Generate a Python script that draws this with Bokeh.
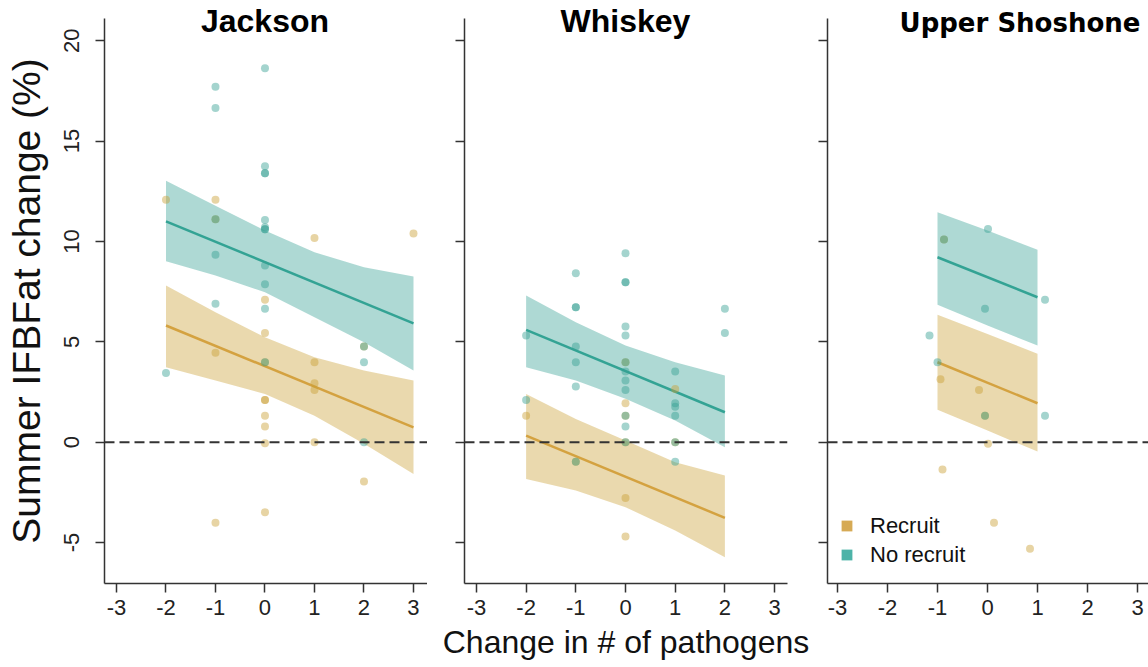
from bokeh.plotting import figure
from bokeh.layouts import row
from bokeh.models import Range1d, Span, Label, Legend, LegendItem, FixedTicker
from bokeh.embed import file_html
from bokeh.resources import INLINE

# ---------------- data ----------------
panel_titles = ["Jackson", "Whiskey", "Upper Shoshone"]
x_ticks = [-3, -2, -1, 0, 1, 2, 3]
y_ticks = [-5, 0, 5, 10, 15, 20]
legend_labels = ["Recruit", "No recruit"]
x_axis_title = "Change in # of pathogens"
y_axis_title = "Summer IFBFat change (%)"

# Jackson
jackson_nr_x = [-2, -1, -1, -1, -1, -1, 0, 0, 0, 0, 0, 0, 0, 0, 0, 0, 0, 0, 2, 2, 2]
jackson_nr_y = [3.45, 17.7, 16.65, 11.1, 9.33, 6.89, 18.62, 13.74, 13.39, 13.39, 11.07,
                10.7, 10.6, 10.6, 8.8, 7.86, 6.65, 3.98, 4.76, 3.98, 0.0]
jackson_r_x = [-2, -1, -1, -1, -1, 0, 0, 0, 0, 0, 0, 0, 0, 0, 1, 1, 1, 1, 1, 2, 2, 3]
jackson_r_y = [12.07, 12.07, 11.1, 4.45, -4.02, 7.1, 5.44, 3.98, 2.1, 2.1, 1.31, 0.78,
               -0.05, -3.49, 10.17, 3.98, 2.93, 2.6, 0.0, 4.76, -1.96, 10.4]
jackson_fit_x = [-2, 3]
jackson_nr_fit = [11.0, 5.92]
jackson_r_fit = [5.81, 0.74]
jackson_band_x = [-2, -1, 0, 1, 2, 3]
jackson_nr_hi = [13.02, 11.78, 10.54, 9.46, 8.71, 8.25]
jackson_nr_lo = [9.01, 8.3, 7.47, 6.22, 4.98, 3.57]
jackson_r_hi = [7.8, 6.47, 5.23, 4.23, 3.57, 3.07]
jackson_r_lo = [3.73, 3.07, 2.4, 1.32, -0.08, -1.58]

# Whiskey
whiskey_nr_x = [-2, -2, -1, -1, -1, -1, -1, -1, -1, 0, 0, 0, 0, 0, 0, 0, 0, 0, 0, 0, 0,
                1, 1, 1, 1, 1, 1, 2, 2]
whiskey_nr_y = [5.31, 2.1, 8.41, 6.72, 6.72, 4.76, 3.98, 2.77, -0.97, 9.41, 7.96, 7.96,
                5.76, 5.31, 3.98, 3.52, 3.07, 2.6, 1.32, 0.78, 0.0,
                3.52, 1.94, 1.77, 1.32, 0.0, -0.97, 6.65, 5.44]
whiskey_r_x = [-2, -1, 0, 0, 0, 0, 0, 0, 1, 1]
whiskey_r_y = [1.32, -0.97, 3.98, 1.94, 1.32, 0.0, -2.78, -4.7, 2.65, 0.0]
whiskey_fit_x = [-2, 2]
whiskey_nr_fit = [5.59, 1.49]
whiskey_r_fit = [0.33, -3.77]
whiskey_band_x = [-2, -1, 0, 1, 2]
whiskey_nr_hi = [7.3, 5.97, 4.81, 3.98, 3.32]
whiskey_nr_lo = [3.73, 3.07, 2.16, 1.08, -0.25]
whiskey_r_hi = [2.4, 1.16, 0.08, -1.0, -1.66]
whiskey_r_lo = [-1.83, -2.41, -3.24, -4.4, -5.73]

# Upper Shoshone
shoshone_nr_x = [0.01, -0.87, 1.15, -0.05, -1.16, -1.0, -0.05, 1.15]
shoshone_nr_y = [10.62, 10.09, 7.1, 6.64, 5.31, 3.98, 1.32, 1.32]
shoshone_r_x = [-0.87, -0.94, -0.17, -0.05, 0.01, -0.9, 0.13, 0.85]
shoshone_r_y = [10.09, 3.13, 2.6, 1.32, -0.08, -1.36, -4.02, -5.31]
shoshone_fit_x = [-1, 1]
shoshone_nr_fit = [9.21, 7.22]
shoshone_r_fit = [3.98, 1.94]
shoshone_band_x = [-1, 0, 1]
shoshone_nr_hi = [11.45, 10.54, 9.58]
shoshone_nr_lo = [6.85, 5.81, 4.81]
shoshone_r_hi = [6.35, 5.39, 4.4]
shoshone_r_lo = [1.61, 0.58, -0.47]

# ---------------- style ----------------
TEAL = "#35A093"
TAN = "#CAA035"
TEAL_LINE = "#33A394"
TAN_LINE = "#D4A240"
TEAL_KEY = "#4DB3A8"
TAN_KEY = "#D6AA55"
AXIS_COL = "#333333"
FONT = "Liberation Sans"

Y0, Y_AXIS_TOP, Y1 = -7.04, 21.1, 22.0
FRAME_H = 583
TOP, BOTTOM = 0, 84

# narrow strip holding the rotated y-axis title, centred on the drawn axis span
ylab_fig = figure(frame_width=50, frame_height=FRAME_H, x_range=Range1d(0, 1), y_range=Range1d(0, 1),
                  output_backend="svg", toolbar_location=None,
                  x_axis_location=None, y_axis_location=None,
                  min_border_left=0, min_border_right=0, min_border_top=TOP, min_border_bottom=BOTTOM)
ylab_fig.outline_line_color = None
ylab_fig.xgrid.grid_line_color = None
ylab_fig.ygrid.grid_line_color = None
ylab_fig.add_layout(Label(x=0.52, y=0.4846, text=y_axis_title, angle=90, angle_units="deg",
                          text_align="center", text_baseline="middle", text_font=FONT,
                          text_font_size="39px", text_color="#111111"))

panels = [
    dict(title=panel_titles[0], nr_x=jackson_nr_x, nr_y=jackson_nr_y, r_x=jackson_r_x, r_y=jackson_r_y,
         fit_x=jackson_fit_x, nr_fit=jackson_nr_fit, r_fit=jackson_r_fit, band_x=jackson_band_x,
         nr_hi=jackson_nr_hi, nr_lo=jackson_nr_lo, r_hi=jackson_r_hi, r_lo=jackson_r_lo,
         xr=(-3.242, 3.283), left=54, right=0, fw=323, title_x=0.0, title_y=21.0,
         title_size="32px", title_font=FONT),
    dict(title=panel_titles[1], nr_x=whiskey_nr_x, nr_y=whiskey_nr_y, r_x=whiskey_r_x, r_y=whiskey_r_y,
         fit_x=whiskey_fit_x, nr_fit=whiskey_nr_fit, r_fit=whiskey_r_fit, band_x=whiskey_band_x,
         nr_hi=whiskey_nr_hi, nr_lo=whiskey_nr_lo, r_hi=whiskey_r_hi, r_lo=whiskey_r_lo,
         xr=(-3.24, 3.26), left=37, right=22, fw=323, title_x=0.0, title_y=21.0,
         title_size="32px", title_font=FONT),
    dict(title=panel_titles[2], nr_x=shoshone_nr_x, nr_y=shoshone_nr_y, r_x=shoshone_r_x, r_y=shoshone_r_y,
         fit_x=shoshone_fit_x, nr_fit=shoshone_nr_fit, r_fit=shoshone_r_fit, band_x=shoshone_band_x,
         nr_hi=shoshone_nr_hi, nr_lo=shoshone_nr_lo, r_hi=shoshone_r_hi, r_lo=shoshone_r_lo,
         xr=(-3.2, 3.22), left=18, right=0, fw=321, title_x=0.65, title_y=20.88,
         title_size="26px", title_font="DejaVu Sans"),
]

figs = [ylab_fig]
for i, pd_ in enumerate(panels):
    p = figure(frame_width=pd_["fw"], frame_height=FRAME_H,
               x_range=Range1d(*pd_["xr"]), y_range=Range1d(Y0, Y1),
               output_backend="svg", toolbar_location=None,
               min_border_left=pd_["left"], min_border_right=pd_["right"],
               min_border_top=TOP, min_border_bottom=BOTTOM)
    p.outline_line_color = None
    p.xgrid.grid_line_color = None
    p.ygrid.grid_line_color = None
    p.background_fill_color = "white"

    # confidence bands
    p.varea(x=pd_["band_x"], y1=pd_["r_lo"], y2=pd_["r_hi"], fill_color=TAN, fill_alpha=0.4)
    p.varea(x=pd_["band_x"], y1=pd_["nr_lo"], y2=pd_["nr_hi"], fill_color=TEAL, fill_alpha=0.4)
    # fit lines
    p.line(pd_["fit_x"], pd_["r_fit"], line_color=TAN_LINE, line_width=2.5)
    p.line(pd_["fit_x"], pd_["nr_fit"], line_color=TEAL_LINE, line_width=2.5)
    # points
    p.scatter(pd_["r_x"], pd_["r_y"], size=8, fill_color=TAN, fill_alpha=0.45, line_color=None)
    p.scatter(pd_["nr_x"], pd_["nr_y"], size=8, fill_color=TEAL, fill_alpha=0.45, line_color=None)

    p.add_layout(Span(location=0, dimension="width", line_color=AXIS_COL,
                      line_width=2, line_dash="10 5"))

    p.add_layout(Label(x=pd_["title_x"], y=pd_["title_y"], text=pd_["title"], text_align="center",
                       text_baseline="alphabetic", text_font_size=pd_["title_size"],
                       text_font_style="bold", text_font=pd_["title_font"], text_color="black"))

    for ax in (p.xaxis, p.yaxis):
        ax.axis_line_color = AXIS_COL
        ax.axis_line_width = 1.5
        ax.major_tick_line_color = AXIS_COL
        ax.major_tick_line_width = 1.5
        ax.major_tick_out = 9
        ax.major_tick_in = 0
        ax.minor_tick_line_color = None
        ax.major_label_text_font = FONT
        ax.major_label_text_font_size = "22px"
        ax.major_label_text_color = "#222222"
        ax.axis_label_text_font = FONT
        ax.axis_label_text_font_style = "normal"
        ax.axis_label_text_color = "#111111"
    p.yaxis.bounds = (Y0, Y_AXIS_TOP)
    p.xaxis.ticker = FixedTicker(ticks=x_ticks)
    p.yaxis.ticker = FixedTicker(ticks=y_ticks)
    p.xaxis.major_label_overrides = {t: str(t) for t in x_ticks}
    p.xaxis.major_label_standoff = 7
    p.yaxis.major_label_orientation = "vertical"

    if i == 0:
        p.yaxis.major_label_overrides = {t: str(t) for t in y_ticks}
        p.yaxis.major_label_standoff = 16
    else:
        p.yaxis.major_label_overrides = {t: "" for t in y_ticks}
        p.yaxis.major_label_standoff = 0
    if i == 1:
        p.xaxis.axis_label = x_axis_title
        p.xaxis.axis_label_text_font_size = "32px"
        p.xaxis.axis_label_standoff = 6

    if i == 2:
        nan = float("nan")
        key_r = p.scatter(x=[nan], y=[nan], marker="square", size=11, fill_color=TAN_KEY, line_color=None)
        key_nr = p.scatter(x=[nan], y=[nan], marker="square", size=11, fill_color=TEAL_KEY, line_color=None)
        legend = Legend(items=[LegendItem(label=legend_labels[0], renderers=[key_r]),
                               LegendItem(label=legend_labels[1], renderers=[key_nr])],
                        location=(6, 15), padding=0, margin=0, spacing=2,
                        glyph_width=27, glyph_height=27, label_height=27,
                        label_standoff=10, label_text_font=FONT, label_text_font_size="22px",
                        label_text_color="#111111", border_line_color=None,
                        background_fill_alpha=0)
        p.add_layout(legend)
    figs.append(p)

layout = row(*figs, spacing=0)
open("out.html", "w").write(file_html(layout, INLINE))
